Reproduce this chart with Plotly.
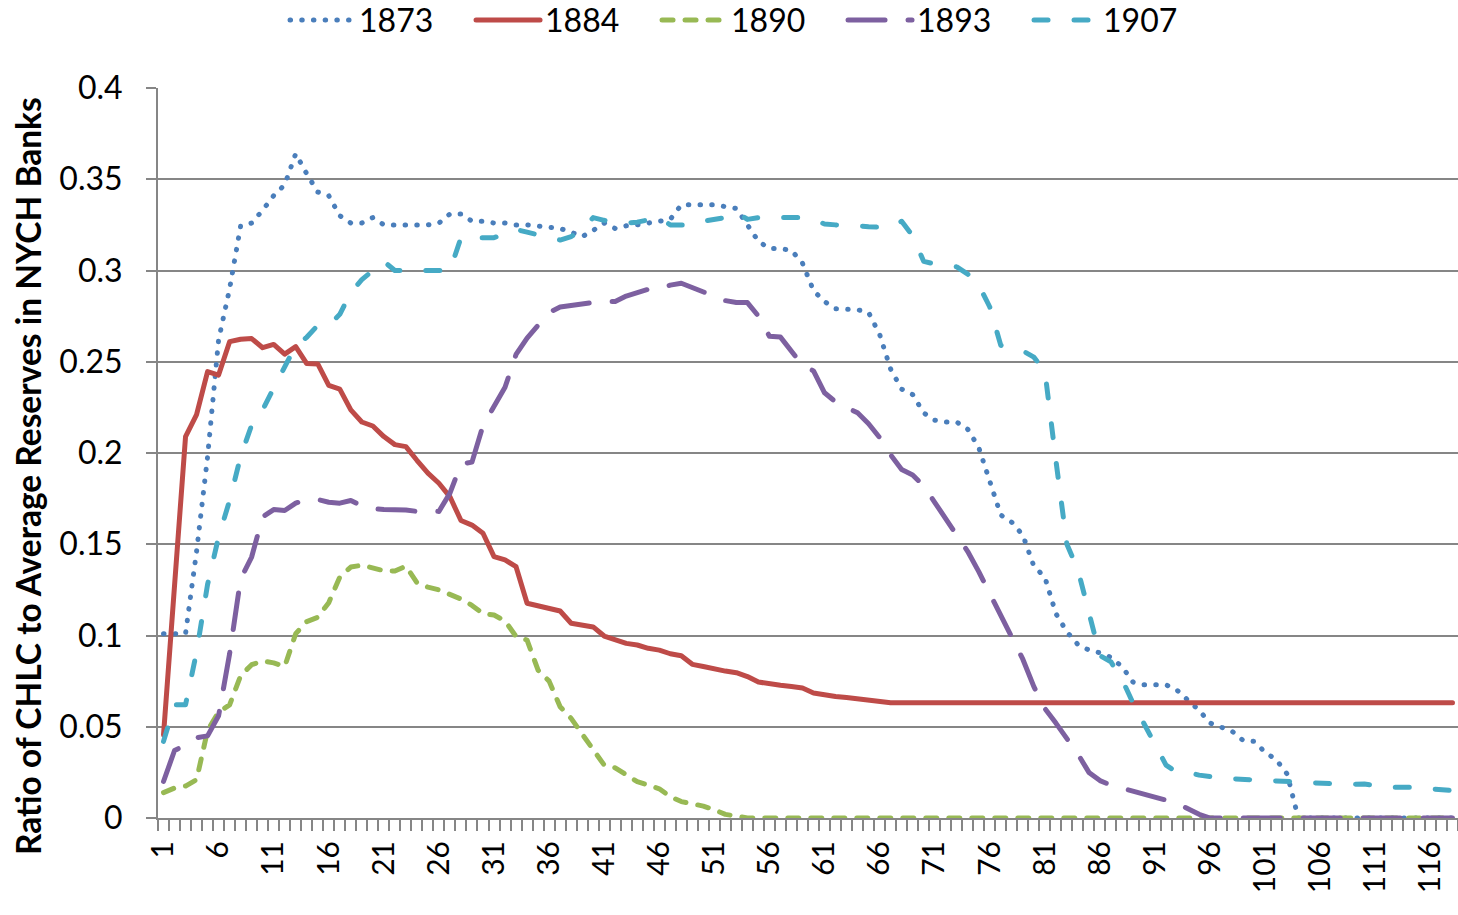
import plotly.graph_objects as go

categories = list(range(1, 119))
tick_values = [1, 6, 11, 16, 21, 26, 31, 36, 41, 46, 51, 56, 61, 66, 71, 76, 81, 86, 91, 96, 101, 106, 111, 116]
tick_labels = [str(v) for v in tick_values]

s1873 = [0.101, 0.101, 0.101, 0.146, 0.198, 0.262, 0.290, 0.3245, 0.326, 0.333,
         0.341, 0.347, 0.364, 0.353, 0.343, 0.341, 0.330, 0.326, 0.326, 0.329,
         0.325, 0.325, 0.325, 0.325, 0.325, 0.326, 0.331, 0.331, 0.327, 0.327,
         0.326, 0.326, 0.325, 0.325, 0.3245, 0.324, 0.323, 0.321, 0.3185, 0.322,
         0.326, 0.323, 0.3245, 0.325, 0.326, 0.327, 0.328, 0.336, 0.336, 0.336,
         0.336, 0.335, 0.334, 0.325, 0.316, 0.312, 0.312, 0.311, 0.304, 0.289,
         0.283, 0.279, 0.2785, 0.2785, 0.277, 0.265, 0.246, 0.235, 0.232, 0.222,
         0.218, 0.217, 0.217, 0.213, 0.203, 0.184, 0.166, 0.162, 0.155, 0.138,
         0.132, 0.112, 0.102, 0.095, 0.092, 0.0905, 0.088, 0.083, 0.0745, 0.073,
         0.073, 0.073, 0.070, 0.0647, 0.059, 0.052, 0.050, 0.0475, 0.0425, 0.042,
         0.036, 0.032, 0.024, 0, 0, 0, 0, 0, 0, 0,
         0, 0, 0, 0, 0, 0, 0, 0]

s1884 = [0.0455, 0.127, 0.209, 0.221, 0.2446, 0.2427, 0.261, 0.2623, 0.2627, 0.2577,
         0.2595, 0.2542, 0.2583, 0.249, 0.2488, 0.237, 0.235, 0.2236, 0.217, 0.2148,
         0.209, 0.2046, 0.2035, 0.196, 0.189, 0.1834, 0.176, 0.163, 0.1605, 0.156,
         0.1432, 0.1414, 0.1377, 0.1177, 0.1165, 0.1149, 0.1134, 0.1067, 0.1058, 0.1047,
         0.0997, 0.098, 0.0957, 0.0948, 0.093, 0.092, 0.090, 0.0889, 0.0842, 0.083,
         0.0816, 0.0805, 0.0796, 0.0775, 0.0745, 0.0733, 0.0727, 0.072, 0.0712, 0.0685,
         0.0673, 0.0666, 0.066, 0.0652, 0.0645, 0.0638, 0.0632, 0.0632, 0.0632, 0.0632,
         0.0632, 0.0632, 0.0632, 0.0632, 0.0632, 0.0632, 0.0632, 0.0632, 0.0632, 0.0632,
         0.0632, 0.0632, 0.0632, 0.0632, 0.0632, 0.0632, 0.0632, 0.0632, 0.0632, 0.0632,
         0.0632, 0.0632, 0.0632, 0.0632, 0.0632, 0.0632, 0.0632, 0.0632, 0.0632, 0.0632,
         0.0632, 0.0632, 0.0632, 0.0632, 0.0632, 0.0632, 0.0632, 0.0632, 0.0632, 0.0632,
         0.0632, 0.0632, 0.0632, 0.0632, 0.0632, 0.0632, 0.0632, 0.0632]

s1890 = [0.0139, 0.0164, 0.0175, 0.021, 0.048, 0.058, 0.062, 0.078, 0.084, 0.086,
         0.085, 0.083, 0.101, 0.1076, 0.110, 0.118, 0.132, 0.1375, 0.1385, 0.137,
         0.1355, 0.1353, 0.138, 0.129, 0.1265, 0.125, 0.1225, 0.120, 0.1165, 0.112,
         0.1112, 0.108, 0.0995, 0.0975, 0.081, 0.075, 0.061, 0.0546, 0.046, 0.037,
         0.029, 0.0275, 0.0236, 0.0199, 0.018, 0.016, 0.0117, 0.009, 0.0078, 0.0065,
         0.0045, 0.002, 0.001, 0, 0, 0, 0, 0, 0, 0,
         0, 0, 0, 0, 0, 0, 0, 0, 0, 0,
         0, 0, 0, 0, 0, 0, 0, 0, 0, 0,
         0, 0, 0, 0, 0, 0, 0, 0, 0, 0,
         0, 0, 0, 0, 0, 0, 0, 0, 0, 0,
         0, 0, 0, 0, 0, 0, 0, 0, 0, 0,
         0, 0, 0, 0, 0, 0, 0, 0]

s1893 = [0.020, 0.037, 0.040, 0.044, 0.045, 0.056, 0.090, 0.131, 0.143, 0.165,
         0.169, 0.1685, 0.1725, 0.1745, 0.1745, 0.173, 0.1725, 0.174, 0.171, 0.1695,
         0.169, 0.169, 0.1688, 0.168, 0.1685, 0.168, 0.178, 0.194, 0.195, 0.215,
         0.226, 0.236, 0.254, 0.263, 0.270, 0.277, 0.280, 0.281, 0.282, 0.2825,
         0.283, 0.283, 0.286, 0.288, 0.2897, 0.2897, 0.292, 0.293, 0.2905, 0.2885,
         0.286, 0.2835, 0.2825, 0.2824, 0.275, 0.264, 0.2635, 0.256, 0.248, 0.245,
         0.233, 0.228, 0.225, 0.222, 0.216, 0.2085, 0.199, 0.191, 0.188, 0.182,
         0.173, 0.164, 0.156, 0.146, 0.135, 0.123, 0.111, 0.099, 0.087, 0.072,
         0.060, 0.052, 0.044, 0.035, 0.025, 0.0205, 0.018, 0.0165, 0.015, 0.0135,
         0.012, 0.0098, 0.008, 0.005, 0.002, 0, 0, 0, 0, 0,
         0, 0, 0, 0, 0, 0, 0, 0, 0, 0,
         0, 0, 0, 0, 0, 0, 0, 0]

s1907 = [0.042, 0.062, 0.062, 0.091, 0.128, 0.154, 0.174, 0.198, 0.2153, 0.2236,
         0.2356, 0.2466, 0.2588, 0.2634, 0.270, 0.270, 0.276, 0.288, 0.295, 0.300,
         0.305, 0.300, 0.300, 0.300, 0.300, 0.300, 0.300, 0.318, 0.318, 0.318,
         0.318, 0.320, 0.3225, 0.321, 0.3195, 0.318, 0.3167, 0.3186, 0.322, 0.329,
         0.3275, 0.327, 0.326, 0.3265, 0.3275, 0.329, 0.325, 0.325, 0.325, 0.327,
         0.328, 0.329, 0.332, 0.328, 0.329, 0.329, 0.329, 0.329, 0.329, 0.328,
         0.3255, 0.325, 0.325, 0.3245, 0.324, 0.3237, 0.3235, 0.327, 0.319, 0.305,
         0.3036, 0.303, 0.302, 0.298, 0.292, 0.280, 0.259, 0.257, 0.256, 0.2525,
         0.245, 0.196, 0.150, 0.136, 0.112, 0.089, 0.0855, 0.076, 0.063, 0.052,
         0.040, 0.029, 0.025, 0.025, 0.0235, 0.0225, 0.022, 0.0215, 0.021, 0.021,
         0.0205, 0.0203, 0.020, 0.0195, 0.019, 0.0186, 0.0185, 0.0185, 0.0185, 0.0186,
         0.0177, 0.0168, 0.0168, 0.0168, 0.0168, 0.016, 0.0152, 0.015]

series = [
    ("1873", s1873, "#4A7EBB", "0.5px,11.2px", 5),
    ("1884", s1884, "#BE4B48", "solid", 5),
    ("1890", s1890, "#98B954", "11px,12px", 5),
    ("1893", s1893, "#7D60A0", "37px,23px", 5),
    ("1907", s1907, "#46AAC5", "14px,26px", 5),
]

fig = go.Figure()
for name, vals, color, dash, w in series:
    fig.add_trace(go.Scatter(
        x=categories, y=vals, mode="lines", name=name,
        line=dict(color=color, width=w, dash=dash),
    ))

font_family = "Lato, 'Open Sans', sans-serif"
grid_color = "#868686"

fig.update_layout(
    width=1458, height=915,
    margin=dict(l=158, r=0, t=88, b=97, autoexpand=False),
    paper_bgcolor="white", plot_bgcolor="white",
    font=dict(family=font_family, size=31, color="black"),
    showlegend=True,
    legend=dict(
        orientation="h",
        xref="container", yref="container",
        x=0.1955, y=0.978, xanchor="left", yanchor="middle",
        itemwidth=64, entrywidth=107, entrywidthmode="pixels",
        font=dict(family=font_family, size=32, color="black"),
        bgcolor="rgba(0,0,0,0)",
        traceorder="normal",
    ),
    xaxis=dict(
        range=[0.5, 118.5], tickmode="array",
        tickvals=tick_values, ticktext=tick_labels,
        tickangle=-90, ticks="", showgrid=False, zeroline=False,
        showline=True, linecolor=grid_color, linewidth=2,
        tickfont=dict(family=font_family, size=30, color="black"),
        ticklabelstandoff=9,
        automargin=False,
        minor=dict(tickmode="linear", tick0=0.5, dtick=1, ticks="outside",
                   ticklen=11, tickwidth=2, tickcolor=grid_color, showgrid=False),
        fixedrange=True,
    ),
    yaxis=dict(
        range=[0, 0.4], tickmode="linear", tick0=0, dtick=0.05,
        tickformat="~g",
        showgrid=True, gridcolor=grid_color, gridwidth=2,
        zeroline=False, showline=True, linecolor=grid_color, linewidth=2,
        ticks="outside", ticklen=10, tickwidth=2, tickcolor=grid_color,
        tickfont=dict(family=font_family, size=32, color="black"),
        ticklabelstandoff=17,
        automargin=False,
        fixedrange=True,
    ),
    annotations=[dict(
        text="<b>Ratio of CHLC to Average Reserves in NYCH Banks</b>",
        xref="paper", yref="paper", x=-0.1, y=0.4685,
        xanchor="center", yanchor="middle", textangle=-90, showarrow=False,
        font=dict(family=font_family, size=33.5, color="black"),
    )],
)

post = """
document.body.style.margin='0';
var s=document.createElement('style');
s.innerHTML='body{margin:0;} .scatterlayer .js-line, .legendlines path{stroke-linecap:round;stroke-linejoin:round;}';
document.head.appendChild(s);
"""
fig.write_html("out.html", post_script=post, config={"displayModeBar": False})
